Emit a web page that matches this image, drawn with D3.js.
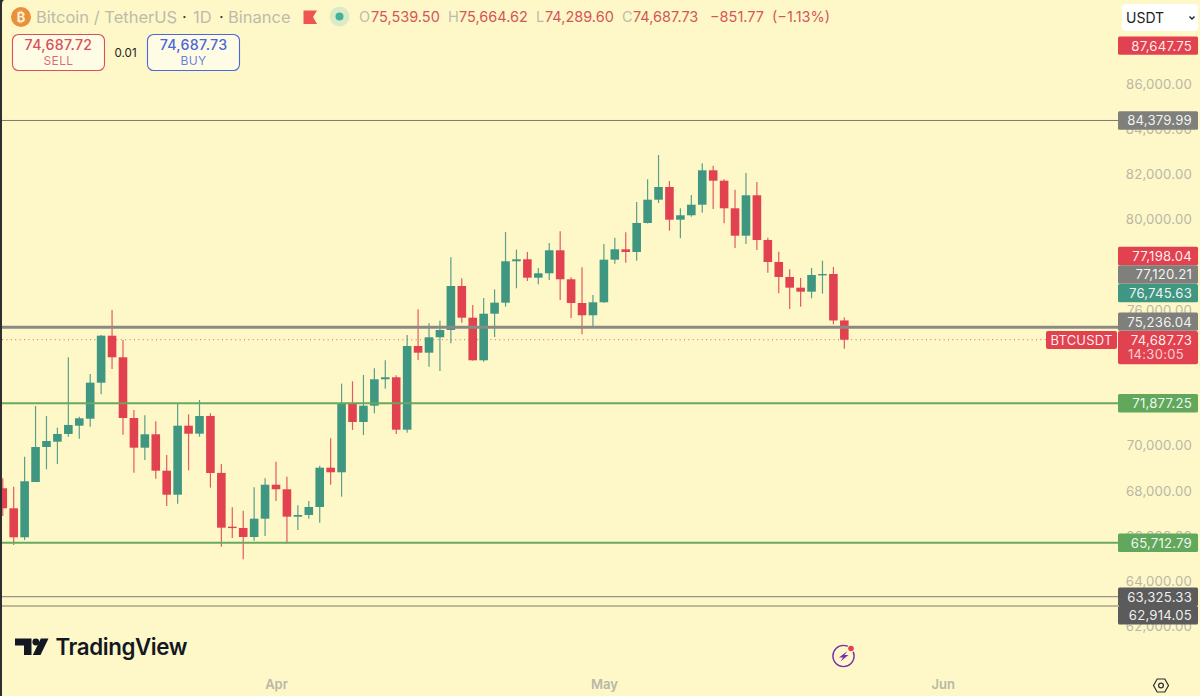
<!DOCTYPE html>
<meta charset="utf-8">
<script src="https://d3js.org/d3.v7.min.js"></script>
<style>
html, body { margin: 0; padding: 0; background: #fef8c9; overflow: hidden; }
text { font-family: Inter, "Noto Sans", sans-serif; }
</style>
<div id="chart"></div>
<script>

// daily candles, first one is 7 March, last one is 23 May
var startDay = "2024-03-07";
var opens = [68119,67235,65953,68398,69945,70179,70520,70887,71196,72788,74866,73911,71227,69914,70507,68897,67836,70887,70533,71316,
  68800,66422,66364,65966,66775,68278,68075,66864,66939,67293,69030,68827,71877,71050,71771,72938,73027,70710,74410,74114,
  74795,75118,77063,75661,73778,75838,76325,78155,78243,77430,77624,78641,77359,76311,75768,76342,78226,78685,78566,79848,
  80878,81440,79994,80189,80657,82178,81718,80498,79287,81073,79097,78124,77461,76988,76811,77549,77593,75539.50];
var highs = [68561,68190,69516,71758,71316,70798,73911,71285,73172,74897,76002,74676,71581,71347,71081,69591,71877,71391,72023,71435,
  69194,67279,67129,68164,68561,69295,68632,67368,67558,69118,70330,72744,72850,73128,73424,73778,73115,74897,76033,75414,
  75529,78332,77403,76223,76532,76917,79450,78668,78566,77859,78964,79481,77448,77890,76665,78920,79198,79437,80777,81780,
  82854,81705,80498,81086,82487,82381,81780,81320,82059,81661,79198,78579,77801,77417,77859,78181,77903,75664.62];
var lows = [66895,65613,65834,68398,68959,69194,70401,70312,70843,72275,73394,70489,68809,69370,68544,67337,67438,68915,70401,68146,
  65537,65922,64980,65803,66010,67558,65688,66276,66775,66598,68278,67748,70697,70476,71435,72523,70520,70577,73791,73495,
  73305,74530,75440,73760,73716,74808,76148,76961,77284,77138,77328,76444,75648,74928,75295,76320,78049,78093,78181,79830,
  80732,79508,79172,80127,80304,80467,79835,78743,78920,78655,77651,76740,76046,76148,76519,76723,75370,74289.60];
var closes = [67235,65953,68429,69945,70210,70520,70918,71214,72788,74866,73911,71227,69914,70507,68897,67836,70887,70533,71316,68796,
  66377,66377,65966,66775,68278,68075,66864,66939,67293,69030,68827,71877,71050,71771,72938,73027,70710,74410,74114,74795,
  75118,77063,75661,73778,75838,76325,78155,78243,77430,77624,78641,77359,76311,75768,76342,78226,78685,78566,79848,80878,
  81440,79994,80189,80657,82178,81718,80498,79287,81073,79097,78124,77461,76988,76811,77549,77593,75539,74687.73];

// price lines drawn across the chart
var thinLines = [84379.99, 63325.33, 62914.05];
var thickLine = 75236.04;
var greenLines = [71877.25, 65712.79];
var lastPrice = 74687.73;

// price scale labels, nudge keeps them from overlapping like the real app does
var scaleLabels = ["87,647.75","84,379.99","77,198.04","77,120.21","76,745.63","75,236.04","71,877.25","65,712.79","63,325.33","62,914.05"];
var scalePrices = [87647.75,84379.99,77198.04,77120.21,76745.63,75236.04,71877.25,65712.79,63325.33,62914.05];
var scaleNudge = [-0.9,0,-27,-10.2,0,-5.7,0,0,0,9.3];
var scaleFills = ["#e2424f","#7f7f7b","#e2424f","#7f7f7b","#3f9782","#7f7f7b","#62a85c","#62a85c","#5b5b5b","#5b5b5b"];

// 78,000 74,000 and 72,000 sit fully behind price labels in the picture
var yTicks = [86000,84000,82000,80000,76000,70000,68000,66000,64000,62000];
var monthTicks = ["2024-04-01","2024-05-01","2024-06-01"];

var width = 1200, height = 696;
var red = "#e2424f", green = "#3f9782", lineGreen = "#69a85e", grey = "#8a8a85";
var labelGrey = "#b9b7a6";

var svg = d3.select("#chart").append("svg")
  .attr("width", width)
  .attr("height", height)
  .style("display", "block");

svg.append("rect").attr("width", width).attr("height", height).attr("fill", "#fef8c9");

var parseDay = d3.utcParse("%Y-%m-%d");
var x = d3.scaleUtc().domain([parseDay(monthTicks[0]), parseDay(monthTicks[2])]).range([276, 942.7]);
var y = d3.scaleLinear().domain([88000, 62000]).range([38.6, 626.7]);

var candles = opens.map(function(o, i) {
  return {date: d3.utcDay.offset(parseDay(startDay), i), open: o, high: highs[i], low: lows[i], close: closes[i]};
});

svg.append("clipPath").attr("id", "plot")
  .append("rect").attr("x", 2).attr("y", 0).attr("width", 1116).attr("height", 670);

// y axis, sits under the price labels
var yAxis = svg.append("g")
  .attr("transform", "translate(1192,0)")
  .call(d3.axisLeft(y).tickValues(yTicks).tickSize(0).tickPadding(0).tickFormat(d3.format(",.2f")));
yAxis.select(".domain").remove();
yAxis.selectAll("text")
  .attr("fill", labelGrey)
  .style("font-family", "Inter, sans-serif")
  .style("font-size", "13.2px")
  .style("letter-spacing", "0.2px");

// x axis
var xAxis = svg.append("g")
  .attr("transform", "translate(0,680)")
  .call(d3.axisBottom(x).tickValues(monthTicks.map(parseDay)).tickSize(0).tickPadding(0).tickFormat(d3.utcFormat("%b")));
xAxis.select(".domain").remove();
xAxis.selectAll("text")
  .attr("fill", labelGrey)
  .style("font-family", "Inter, sans-serif")
  .style("font-size", "13px")
  .style("font-weight", "600");

var plot = svg.append("g").attr("clip-path", "url(#plot)");

// last price dotted line
plot.append("line")
  .attr("x1", 2).attr("x2", 1046)
  .attr("y1", y(lastPrice)).attr("y2", y(lastPrice))
  .attr("stroke", "#d9635f")
  .attr("stroke-width", 1)
  .attr("stroke-dasharray", "1 3.4");

// wicks
plot.selectAll(".wick").data(candles).enter().append("line")
  .attr("class", "wick")
  .attr("x1", function(d) { return x(d.date); })
  .attr("x2", function(d) { return x(d.date); })
  .attr("y1", function(d) { return y(d.high); })
  .attr("y2", function(d) { return y(d.low); })
  .attr("stroke", function(d) { return d.close < d.open ? "#e25a62" : "#5a9f88"; })
  .attr("stroke-width", 1.2);

// bodies
plot.selectAll(".body").data(candles).enter().append("rect")
  .attr("class", "body")
  .attr("x", function(d) { return x(d.date) - 4.3; })
  .attr("width", 8.6)
  .attr("y", function(d) { return y(Math.max(d.open, d.close)); })
  .attr("height", function(d) { return Math.max(1.4, Math.abs(y(d.open) - y(d.close))); })
  .attr("fill", function(d) { return d.close < d.open ? red : green; });

// horizontal lines go over the candles
plot.selectAll(".thin").data(thinLines).enter().append("line")
  .attr("class", "thin")
  .attr("x1", 2).attr("x2", 1118)
  .attr("y1", function(d) { return y(d); })
  .attr("y2", function(d) { return y(d); })
  .attr("stroke", "#7d7b68")
  .attr("stroke-width", 1);

plot.append("line")
  .attr("x1", 2).attr("x2", 1118)
  .attr("y1", y(thickLine)).attr("y2", y(thickLine))
  .attr("stroke", grey)
  .attr("stroke-width", 3);

plot.selectAll(".greenline").data(greenLines).enter().append("line")
  .attr("class", "greenline")
  .attr("x1", 2).attr("x2", 1118)
  .attr("y1", function(d) { return y(d); })
  .attr("y2", function(d) { return y(d); })
  .attr("stroke", lineGreen)
  .attr("stroke-width", 2);

// price labels on the scale
scalePrices.forEach(function(p, i) {
  var cy = y(p) + scaleNudge[i];
  svg.append("rect")
    .attr("x", 1118).attr("y", cy - 9.2)
    .attr("width", 80).attr("height", 18.4)
    .attr("rx", 1.5)
    .attr("fill", scaleFills[i]);
  svg.append("text")
    .attr("x", 1192).attr("y", cy + 5)
    .attr("text-anchor", "end")
    .attr("fill", "#fff")
    .attr("fill-opacity", 0.92)
    .style("font-size", "13.2px")
    .style("letter-spacing", "0.2px")
    .text(scaleLabels[i]);
});

// last price label with countdown
svg.append("rect")
  .attr("x", 1118).attr("y", y(lastPrice) - 8.7)
  .attr("width", 80).attr("height", 33.3)
  .attr("rx", 2).attr("fill", red);
svg.append("text")
  .attr("x", 1192).attr("y", y(lastPrice) + 5)
  .attr("text-anchor", "end").attr("fill", "#fff").attr("fill-opacity", 0.92)
  .style("font-size", "13.2px").style("letter-spacing", "0.2px")
  .text("74,687.73");
svg.append("text")
  .attr("x", 1128).attr("y", y(lastPrice) + 19.5)
  .attr("fill", "#fff").attr("fill-opacity", 0.75)
  .style("font-size", "13px").style("letter-spacing", "0.3px")
  .text("14:30:05");
svg.append("rect")
  .attr("x", 1046).attr("y", y(lastPrice) - 8.7)
  .attr("width", 71).attr("height", 18)
  .attr("rx", 2).attr("fill", red);
svg.append("text")
  .attr("x", 1081.5).attr("y", y(lastPrice) + 4.8)
  .attr("text-anchor", "middle").attr("fill", "#fff").attr("fill-opacity", 0.92)
  .style("font-size", "13px").style("letter-spacing", "0.2px")
  .text("BTCUSDT");

// legend row
svg.append("circle").attr("cx", 21).attr("cy", 17).attr("r", 10).attr("fill", "#e8913a");
svg.append("text").attr("x", 21).attr("y", 21.5).attr("text-anchor", "middle")
  .attr("fill", "#fdf1d8").style("font-size", "13px").style("font-weight", "700").text("₿");
svg.append("text").attr("x", 36).attr("y", 23)
  .attr("fill", "#bdbbaa").style("font-size", "16.5px")
  .text("Bitcoin / TetherUS");
svg.append("text").attr("x", 182).attr("y", 23)
  .attr("fill", "#3a3a34").style("font-size", "16.5px").text("·");
svg.append("text").attr("x", 193).attr("y", 23)
  .attr("fill", "#bdbbaa").style("font-size", "16.5px").text("1D");
svg.append("text").attr("x", 219).attr("y", 23)
  .attr("fill", "#3a3a34").style("font-size", "16.5px").text("·");
svg.append("text").attr("x", 228).attr("y", 23)
  .attr("fill", "#bdbbaa").style("font-size", "16.5px").text("Binance");
svg.append("path").attr("d", "M303.5 10.5H317L313 17L317 24H303.5Z").attr("fill", "#ee5550");
svg.append("circle").attr("cx", 339.5).attr("cy", 16.5).attr("r", 10).attr("fill", "#dcebc6");
svg.append("circle").attr("cx", 339.5).attr("cy", 16.5).attr("r", 4).attr("fill", "#45b29c");

var ohlcNames = ["O","H","L","C"];
var ohlcNameX = [359,448,536,622];
var ohlcValues = ["75,539.50","75,664.62","74,289.60","74,687.73"];
var ohlcValueX = [371,459,545,633];
ohlcNames.forEach(function(n, i) {
  svg.append("text").attr("x", ohlcNameX[i]).attr("y", 22).attr("fill", "#bdbbaa")
    .style("font-size", "14.5px").text(n);
  svg.append("text").attr("x", ohlcValueX[i]).attr("y", 22).attr("fill", "#d4575a")
    .style("font-size", "14.5px").text(ohlcValues[i]);
});
svg.append("text").attr("x", 710).attr("y", 22).attr("fill", "#d4575a")
  .style("font-size", "14.5px").text("−851.77");
svg.append("text").attr("x", 772).attr("y", 22).attr("fill", "#d4575a")
  .style("font-size", "14.5px").text("(−1.13%)");

// sell and buy boxes
var boxX = [12.5,147.5];
var boxTop = ["74,687.72","74,687.73"];
var boxBottom = ["SELL","BUY"];
var boxColor = ["#d94f5c","#4a68dc"];
boxX.forEach(function(bx, i) {
  svg.append("rect").attr("x", bx).attr("y", 34.5).attr("width", 92).attr("height", 36)
    .attr("rx", 6).attr("fill", "#fffce6").attr("stroke", boxColor[i]).attr("stroke-width", 1.1);
  svg.append("text").attr("x", bx + 46).attr("y", 50).attr("text-anchor", "middle")
    .attr("fill", boxColor[i]).style("font-size", "14.2px").style("font-weight", "500")
    .style("letter-spacing", "0.3px").text(boxTop[i]);
  svg.append("text").attr("x", bx + 46).attr("y", 65).attr("text-anchor", "middle")
    .attr("fill", boxColor[i]).attr("fill-opacity", 0.85).style("font-size", "12px")
    .style("letter-spacing", "0.4px").text(boxBottom[i]);
});
svg.append("text").attr("x", 125.6).attr("y", 56.5).attr("text-anchor", "middle")
  .attr("fill", "#222").style("font-size", "11.6px").text("0.01");

// currency dropdown
svg.append("rect").attr("x", 1122).attr("y", 4).attr("width", 76).attr("height", 27)
  .attr("rx", 4).attr("fill", "#fff");
svg.append("text").attr("x", 1126).attr("y", 23).attr("fill", "#222")
  .style("font-size", "14px").text("USDT");
svg.append("path").attr("d", "M1189.5 16.5L1192 19L1194.5 16.5").attr("fill", "none")
  .attr("stroke", "#222").attr("stroke-width", 1.4);

// left window edge
svg.append("path").attr("d", "M0 0H4Q2 1 2 4V696H0Z").attr("fill", "#2e2e2e");

// TradingView logo
var logo = svg.append("g").attr("fill", "#131722");
logo.append("path").attr("d", "M15 638.5H31.5V655H24V645.5H15Z");
logo.append("circle").attr("cx", 35.8).attr("cy", 642).attr("r", 3.4);
logo.append("path").attr("d", "M40.8 638.5H48.5L40.5 655H32.8Z");
svg.append("text").attr("x", 55.5).attr("y", 655).attr("fill", "#131722")
  .style("font-size", "22.3px").style("font-weight", "600").style("letter-spacing", "-0.4px")
  .text("TradingView");

// purple notification icon
svg.append("circle").attr("cx", 843.5).attr("cy", 656).attr("r", 10.6)
  .attr("fill", "none").attr("stroke", "#7b2fb0").attr("stroke-width", 1.4);
svg.append("path").attr("d", "M847.5 651L839 657.5H843L840.5 661.5L848.5 655H844.5Z").attr("fill", "#7b2fb0");
svg.append("circle").attr("cx", 851).attr("cy", 648.5).attr("r", 3.8).attr("fill", "#fef8c9");
svg.append("circle").attr("cx", 851).attr("cy", 648.5).attr("r", 2.8).attr("fill", "#e2424f");

// settings hexagon
svg.append("path").attr("d", "M1153.5 685.5L1157.2 679H1164.8L1168.5 685.5L1164.8 692H1157.2Z")
  .attr("fill", "none").attr("stroke", "#2e2e2e").attr("stroke-width", 1.2);
svg.append("circle").attr("cx", 1161).attr("cy", 685.5).attr("r", 2.4)
  .attr("fill", "none").attr("stroke", "#2e2e2e").attr("stroke-width", 1.2);

</script>
